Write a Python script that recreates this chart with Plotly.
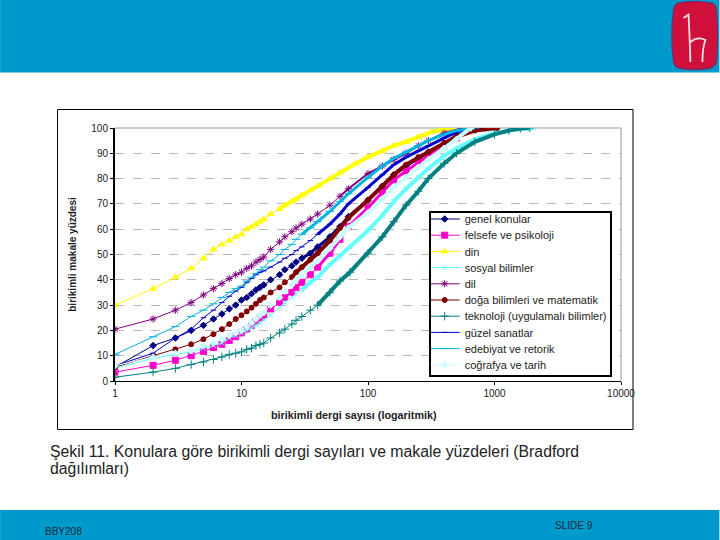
import plotly.graph_objects as go

# ---- data ----
names = ["genel konular", "felsefe ve psikoloji", "din", "sosyal bilimler", "dil",
         "doğa bilimleri ve matematik", "teknoloji (uygulamalı bilimler)",
         "güzel sanatlar", "edebiyat ve retorik", "coğrafya ve tarih"]

genel_x = [1,2,3,4,5,6,7,8,9,10,11,12,13,14,15,17,20,22,25,27,30,35,40,50,60,70,100,130,160,200,250,300,400,500,650,850]
genel_y = [5.5,14,17,20,22,24.5,26.5,28.5,30,32,33,34.5,36,37,38,40,42,44,45.5,47,48.5,50.5,53,57,61,65,71.5,77,81.5,85,88,90.5,94,97,99,100]
felsefe_x = [1,2,3,4,5,6,7,8,9,10,11,12,13,14,15,17,20,22,25,27,30,35,40,50,60,70,100,130,160,200,250,300,400,500,700]
felsefe_y = [3.5,6.2,8.2,10,11.7,13.2,14.5,16,17.5,19,20.5,22,23.5,25,26,28.5,31,33,35,37,39,42,45,50.5,56,61,68.5,74.5,79.5,83,86.5,89,93,96,100]
din_x = [1,2,3,4,5,6,7,8,9,10,11,12,13,14,15,17,20,22,25,27,30,35,40,50,60,80,100,130,160,200,250,320,460]
din_y = [30,36.5,41,44.5,48.5,52,54,55.5,57,58,60,61,62,63,64,66,68,69.5,71,72,73.5,75.5,77,80,82.5,86,88.5,91,93,94.5,96.5,98.5,100]
sosyal_x = [1,2,3,4,5,6,7,8,9,10,11,12,13,14,15,17,20,22,25,27,30,35,40,50,60,72,100,130,160,200,250,300,400,500,700,1000,1500,2050]
sosyal_y = [5,9,10.5,11.5,13,14,15,17,18,19,20,21,22,23,24,26,29,31,33,34.5,36,39,41,46,49.5,53,59.5,65.5,71,76,80.5,84,89,92,95.5,98,99.5,100]
dil_x = [1,2,3,4,5,6,7,8,9,10,11,12,13,14,15,17,20,22,25,27,30,35,40,50,60,70,100,130,160,200,250,300,400,570]
dil_y = [20.5,24.5,28,31,34,36.5,38.5,40.5,42,43,44.5,45.5,47,48,49,52,55,57,59,60.5,62,64,66,69.5,73,76,82,85,87.5,90,93,95,98,100]
doga_x = [1,2,3,4,5,6,7,8,9,10,11,12,13,14,15,17,20,22,25,27,30,35,40,50,60,70,100,130,160,200,250,300,400,500,700,1050]
doga_y = [5.5,10,12.5,14.5,16.5,18.5,20.5,22.5,24.5,26,27.5,29,30.5,32,33,35,37,39,41,43,45,48,50.5,55.5,60.5,64.5,71.5,77,81.5,85.5,88.5,90.5,94,96.5,99,100]
tek_x = [1,2,3,4,5,6,7,8,9,10,11,12,13,14,15,17,20,22,25,27,30,35,40,50,60,72,100,130,160,200,250,300,400,500,700,1000,1300,1600,1900]
tek_y = [1.5,3.5,5,6.5,7.5,8.5,9.5,10.5,11,11.5,12.5,13,14,14.5,15,17,19,20.5,22.5,24,25.5,28,30,35,39.5,43,50.5,57,63,69.5,75,80,86,90,94.5,97.5,99,99.8,100]
guzel_x = [1,2,3,4,5,6,7,8,9,10,11,12,13,14,15,17,20,22,25,27,30,35,40,50,60,70,100,130,160,200,250,300,400,500,600,700]
guzel_y = [6,11,17,20.5,25,28,31,33.5,35.5,37,39,40.5,42,43,43.5,45,47,48.5,50,51.5,53,55.5,58,62,66,70,76.5,81.5,85.5,88.5,91,93,96,98.5,99.5,100]
edebiyat_x = [1,2,3,4,5,6,7,8,9,10,11,12,13,14,15,17,20,22,25,27,30,35,40,50,60,70,100,130,160,200,250,300,400,500,700]
edebiyat_y = [10.5,17.5,21.5,25.5,28,30.5,33,35,36.5,37.5,39.5,41,42.5,44,45,47.5,50,52,54,56,58,60.5,63,67,71,74,80.5,85,88,90.5,93,95,97.5,99,100]
cografya_x = [1,2,3,4,5,6,7,8,9,10,11,12,13,14,15,17,20,22,25,27,30,35,40,50,60,70,100,130,160,200,250,300,400,500,650]
cografya_y = [6,9.5,11,12,14,15,16.5,18,19,20,21.5,23,24.5,26,27,30,33,35.5,38,40,42,45,47.5,52.5,57,60.5,66.5,72,76.5,80.5,84.5,87.5,92,95.5,100]

series_x = [genel_x, felsefe_x, din_x, sosyal_x, dil_x, doga_x, tek_x, guzel_x, edebiyat_x, cografya_x]
series_y = [genel_y, felsefe_y, din_y, sosyal_y, dil_y, doga_y, tek_y, guzel_y, edebiyat_y, cografya_y]

colors = ["#000080", "#FF00CC", "#FFFF00", "#66FFFF", "#800080", "#800000", "#008080", "#0000CC", "#00B4E0", "#CCFFFF"]
symbols = ["diamond", "square", "triangle-up", "x-thin-open", "asterisk-open", "circle",
           "cross-thin-open", "line-ew-open", "line-ew-open", "diamond"]
sizes = [5, 6, 6, 5, 6, 5, 6, 4, 6, 5]
dense_from = [30, 40, 20, 30, 60, 25, 40, 40, 30, 25]
dense_w = [3, 3, 4, 4, 2, 4, 4, 3, 3, 4]

y_ticks = [0, 10, 20, 30, 40, 50, 60, 70, 80, 90, 100]
x_ticks = [1, 10, 100, 1000, 10000]

# ---- page geometry ----
W, H = 720, 540
L, R, T, B = 115, 621.5, 128, 381


def px(x):
    return (x - L) / (R - L)


def py(y):
    return (B - y) / (B - T)


def rect(x0, y0, x1, y1, fill, line=None, lw=0):
    return dict(type="rect", xref="paper", yref="paper", x0=px(x0), x1=px(x1), y0=py(y0), y1=py(y1),
                fillcolor=fill, line=dict(color=line, width=lw) if line else dict(width=0), layer="below")


fig = go.Figure()
for i, n in enumerate(names):
    thick_x = [a for a in series_x[i] if a >= dense_from[i]]
    thick_y = [b for a, b in zip(series_x[i], series_y[i]) if a >= dense_from[i]]
    fig.add_trace(go.Scatter(x=thick_x, y=thick_y, mode="lines", showlegend=False, hoverinfo="skip",
                             line=dict(color=colors[i], width=dense_w[i])))
    fig.add_trace(go.Scatter(x=series_x[i], y=series_y[i], mode="lines+markers", name=n,
                             line=dict(color=colors[i], width=1),
                             marker=dict(color=colors[i], symbol=symbols[i], size=sizes[i],
                                         line=dict(color=colors[i], width=1))))

LOGO = ("M 679 3 Q 695 0 712 3 Q 717 5 717 12 Q 719 36 717 60 Q 717 66 711 68 "
        "Q 695 71 679 68 Q 674 66 674 60 Q 671 36 674 12 Q 674 5 679 3 Z")
LOGO_H = "M 689 14 Q 690 30 691 62 M 684 18 L 690 14 M 691 42 Q 698 36 706 40 Q 703 48 703 62"


def conv_path(s):
    out, k = [], 0
    for tok in s.split():
        if tok.isalpha():
            out.append(tok)
        else:
            v = float(tok)
            out.append(f"{px(v):.5f}" if k % 2 == 0 else f"{py(v):.5f}")
            k += 1
    return " ".join(out)


shapes = [
    rect(0, 0, 720, 72.5, "#0099CC"),
    rect(0, 510, 720, 540, "#0099CC"),
    rect(57.5, 109.5, 633.5, 429.5, "#FFFFFF", "#000000", 1),
    dict(type="path", xref="paper", yref="paper", path=conv_path(LOGO), fillcolor="#D0103A",
         line=dict(color="#7A2A6A", width=1.5), layer="above"),
    dict(type="path", xref="paper", yref="paper", path=conv_path(LOGO_H), line=dict(color="#FBE3E3", width=1.8),
         layer="above"),
    dict(type="line", xref="paper", yref="paper", x0=1, x1=1, y0=0, y1=1, line=dict(color="#999999", width=1), layer="below"),
    dict(type="line", xref="paper", yref="paper", x0=0, x1=1, y0=1, y1=1, line=dict(color="#999999", width=1), layer="below"),
]

TXT = dict(family="Liberation Sans, Arial, sans-serif")
annotations = [
    dict(text="Şekil 11. Konulara göre birikimli dergi sayıları ve makale yüzdeleri (Bradford",
         xref="paper", yref="paper", x=px(50), y=py(451.5), xanchor="left", yanchor="middle", align="left",
         showarrow=False, font=dict(size=15.8, color="#222222", **TXT), xshift=-2),
    dict(text="dağılımları)",
         xref="paper", yref="paper", x=px(50), y=py(468), xanchor="left", yanchor="middle", align="left",
         showarrow=False, font=dict(size=15.8, color="#222222", **TXT), xshift=-2),
    dict(text="BBY208", xref="paper", yref="paper", x=px(43), y=py(531), xanchor="left", yanchor="middle",
         showarrow=False, font=dict(size=10, color="#1a2a3a", **TXT)),
    dict(text="SLIDE 9", xref="paper", yref="paper", x=px(553), y=py(525), xanchor="left", yanchor="middle",
         showarrow=False, font=dict(size=10, color="#1a2a3a", **TXT)),
    dict(text="<b>birikimli dergi sayısı (logaritmik)</b>", xref="paper", yref="paper", x=px(354), y=py(415),
         xanchor="center", yanchor="middle", showarrow=False, font=dict(size=10.8, color="#222222", **TXT)),
]

fig.update_layout(
    width=W, height=H, margin=dict(l=L, r=W - R, t=T, b=H - B),
    paper_bgcolor="#FFFFFF", plot_bgcolor="rgba(0,0,0,0)",
    font=dict(color="#222222", **TXT), shapes=shapes, annotations=annotations,
    legend=dict(x=px(429), y=py(211), xanchor="left", yanchor="top", bgcolor="#FFFFFF",
                bordercolor="#000000", borderwidth=2, tracegroupgap=0, itemwidth=30,
                font=dict(size=11, color="#222222")),
    xaxis=dict(type="log", range=[0, 4], tickvals=x_ticks, ticktext=[str(t) for t in x_ticks],
               showgrid=False, showline=True, linecolor="#000000", linewidth=1, ticks="outside",
               ticklen=3, tickcolor="#000000", tickfont=dict(size=10), zeroline=False),
    yaxis=dict(range=[0, 100], tickvals=y_ticks, showgrid=True, griddash="dash", gridcolor="#B8B8B8",
               gridwidth=1, showline=True, linecolor="#000000", linewidth=2, ticks="outside", ticklen=3,
               tickcolor="#000000", tickfont=dict(size=10), zeroline=False,
               title=dict(text="<b>birikimli makale yüzdesi</b>", font=dict(size=10), standoff=13)),
)

# tighten the legend rows to the reference's 16.2 px pitch (plotly's minimum row height is 19 px)
POST = """
document.body.style.margin='0';
var lg=document.querySelector('.legend');
if(lg){
  var rows=lg.querySelectorAll('.traces');
  rows.forEach(function(r,i){r.setAttribute('transform','translate(-4,'+(8+i*16.2)+')');});
  var b=lg.querySelector('.bg');
  if(b){b.setAttribute('height','164'); b.style.height='164px'; b.setAttribute('width','181'); b.style.width='181px';}
}
"""
fig.write_html("out.html", post_script=POST, config=dict(displayModeBar=False))
